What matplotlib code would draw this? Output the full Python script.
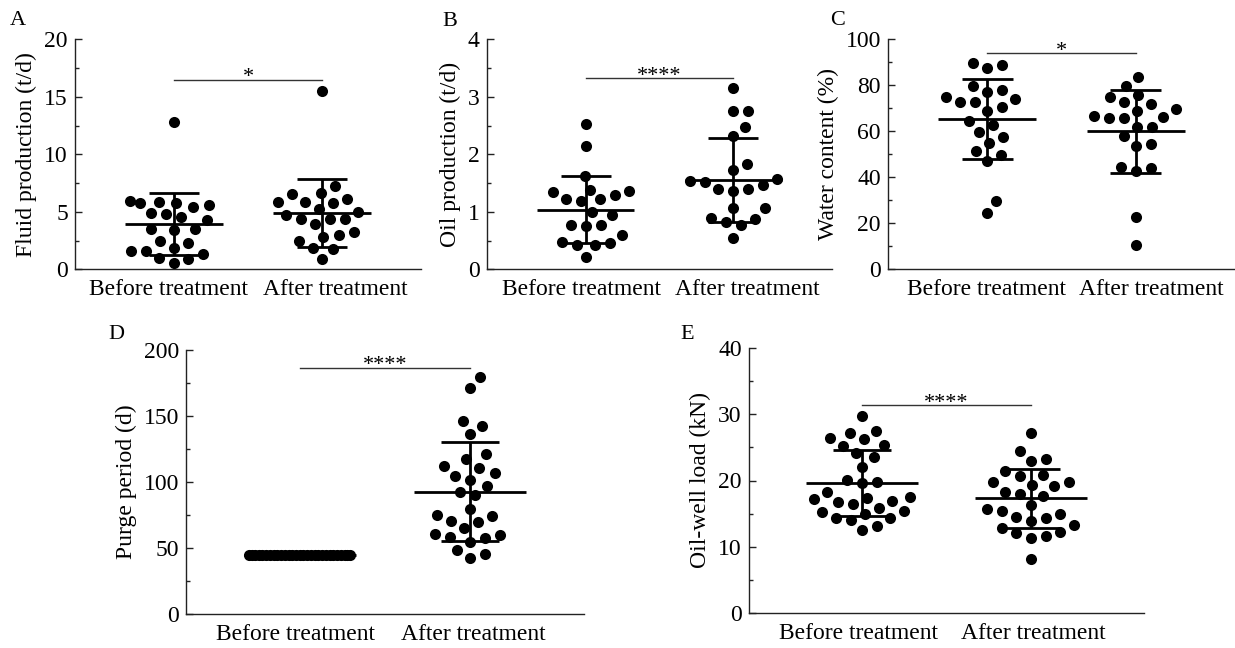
import numpy as np
import matplotlib
matplotlib.use('Agg')
import matplotlib.pyplot as plt
from matplotlib.ticker import MultipleLocator
from matplotlib.transforms import ScaledTranslation

plt.rcParams['font.family'] = 'Liberation Serif'

# data
groups = ['Before treatment', 'After treatment']

fluid_before = [5.74, 5.59, 5.39, 5.85, 5.97, 5.79, 4.81, 4.29, 4.57, 4.87, 3.48, 3.42,
                3.50, 2.46, 2.31, 1.88, 1.62, 1.55, 1.30, 0.96, 0.90, 0.52, 12.83]
fluid_after = [7.24, 6.61, 6.52, 6.11, 5.82, 5.82, 5.74, 5.24, 4.96, 4.72, 4.35, 4.35,
               4.35, 3.94, 2.83, 2.98, 3.27, 2.49, 1.88, 1.77, 0.87, 15.53]
fluid_mean = [3.94, 4.87]
fluid_sd = [2.67, 2.96]

oil_before = [2.53, 2.15, 1.63, 1.36, 1.35, 1.29, 1.22, 1.23, 1.38, 1.19, 1.00, 0.94,
              0.77, 0.77, 0.76, 0.60, 0.45, 0.48, 0.43, 0.43, 0.22]
oil_after = [3.15, 2.75, 2.75, 2.47, 2.31, 1.84, 1.73, 1.54, 1.47, 1.39, 1.36, 1.57,
             1.39, 1.51, 1.07, 1.06, 0.87, 0.82, 0.90, 0.77, 0.54]
oil_mean = [1.04, 1.55]
oil_sd = [0.59, 0.73]

water_before = [87.7, 88.8, 89.6, 77.0, 74.8, 78.0, 79.8, 72.9, 73.9, 72.9, 70.7, 68.8,
                64.6, 62.7, 59.8, 57.4, 54.8, 51.6, 49.7, 47.2, 29.7, 24.3]
water_after = [83.7, 79.8, 75.8, 74.8, 72.6, 71.9, 69.6, 69.0, 66.7, 65.6, 65.6, 66.1,
               61.7, 61.7, 58.0, 53.6, 54.5, 44.6, 43.9, 42.9, 22.6, 10.6]
water_mean = [65.2, 60.0]
water_sd = [17.4, 18.0]

purge_before = [45] * 29
purge_after = [179.8, 171.4, 146.2, 142.7, 136.1, 121.0, 117.2, 112.1, 110.8, 107.0,
               101.5, 104.5, 97.2, 92.7, 90.2, 79.5, 74.5, 75.0, 69.9, 70.7, 65.4, 57.3,
               54.8, 58.6, 59.8, 60.4, 48.5, 45.2, 42.7]
purge_mean = [45.0, 92.8]
purge_sd = [0.0, 37.3]

load_before = [29.8, 26.2, 27.2, 26.4, 27.5, 25.3, 25.2, 24.2, 23.5, 22.1, 19.7, 19.6,
               20.1, 18.2, 16.9, 16.5, 17.5, 16.7, 17.4, 17.2, 15.8, 15.4, 15.2, 15.0,
               14.3, 14.3, 14.1, 13.2, 12.6]
load_after = [27.1, 24.5, 23.2, 22.9, 21.4, 20.9, 20.7, 19.7, 19.2, 19.7, 19.3, 18.3,
              17.9, 17.7, 16.3, 15.0, 15.4, 15.7, 14.5, 14.3, 13.9, 13.3, 12.3, 12.1,
              12.8, 11.6, 11.3, 8.1]
load_mean = [19.6, 17.3]
load_sd = [5.0, 4.5]

W, H = 1235, 648


def box(left, top, right, bottom):
    # pixel box -> figure fraction
    return [left / W, 1 - bottom / H, (right - left) / W, (bottom - top) / H]


def swarm(ax, xc, vals, diam=15, half=0.30):
    # simple beeswarm in pixel space, offsets limited to +-half
    vals = np.asarray(vals, float)
    p0 = ax.transData.transform((0, 0))
    p1 = ax.transData.transform((1, 0))
    ppu = p1[0] - p0[0]
    ypx = ax.transData.transform(np.column_stack([np.zeros(len(vals)), vals]))[:, 1]
    lim = half * ppu
    cands = [0.0]
    k = 0.5
    while k <= lim:
        cands += [k, -k]
        k += 0.5
    placed = []
    off = np.zeros(len(vals))
    for i in np.argsort(vals):
        y = ypx[i]
        best = None
        for c in cands:
            if all((c - px) ** 2 + (y - py) ** 2 >= diam ** 2 for px, py in placed):
                best = c
                break
        if best is None:
            best = max(cands, key=lambda c: min((c - px) ** 2 + (y - py) ** 2 for px, py in placed))
        placed.append((best, y))
        off[i] = best
    return xc + off / ppu


def panel(rect, letter, letter_xy, before, after, mean, sd, ylim, major, minor, ylabel,
          sig_y, stars, label_shift=(0, 0)):
    ax = fig.add_axes(box(*rect))
    ax.set_xlim(-0.67, 1.67)
    ax.set_ylim(*ylim)
    for s in ['top', 'right']:
        ax.spines[s].set_visible(False)
    for s in ['left', 'bottom']:
        ax.spines[s].set_linewidth(1.0)
        ax.spines[s].set_color('#222222')
    ax.yaxis.set_major_locator(MultipleLocator(major))
    ax.yaxis.set_minor_locator(MultipleLocator(minor))
    ax.tick_params(axis='y', which='both', direction='in', labelsize=17, pad=5, color='#222222')
    ax.tick_params(axis='y', which='major', length=5, width=1)
    ax.tick_params(axis='y', which='minor', length=3, width=1)
    ax.set_xticks([0, 1])
    ax.set_xticklabels(groups)
    ax.tick_params(axis='x', length=0, labelsize=17, pad=7)
    for lab, dx in zip(ax.get_xticklabels(), label_shift):
        lab.set_transform(lab.get_transform() + ScaledTranslation(dx / 100, 0, fig.dpi_scale_trans))
    ax.set_ylabel(ylabel, fontsize=17, labelpad=5)

    for i, vals in enumerate([before, after]):
        xs = swarm(ax, i, vals)
        ax.plot(xs, vals, 'o', color='black', markersize=8, markeredgewidth=0, zorder=3)
        m, s = mean[i], sd[i]
        ax.hlines(m, i - 0.33, i + 0.33, color='black', lw=2, zorder=4)
        ax.hlines([m - s, m + s], i - 0.17, i + 0.17, color='black', lw=2, zorder=4)
        ax.vlines(i, m - s, m + s, color='black', lw=2, zorder=4)

    # significance bar
    ax.plot([0, 1], [sig_y, sig_y], color='#333333', lw=1)
    ax.annotate(stars, xy=(0.5, sig_y), xytext=(0, -2), textcoords='offset points',
                ha='center', va='baseline', fontsize=16)
    fig.text(letter_xy[0] / W, 1 - letter_xy[1] / H, letter, fontsize=16, va='baseline')
    return ax


fig = plt.figure(figsize=(12.35, 6.48), dpi=100)

panel((74.8, 39.3, 421.2, 269.3), 'A', (10, 25), fluid_before, fluid_after, fluid_mean, fluid_sd,
      (0, 20), 5, 2.5, 'Fluid production (t/d)', 16.5, '*', (-5, 13))
panel((486.8, 39.3, 832.2, 269.3), 'B', (442, 26), oil_before, oil_after, oil_mean, oil_sd,
      (0, 4), 1, 0.5, 'Oil production (t/d)', 3.33, '****', (-4, 14))
panel((887.9, 39.3, 1235, 269.3), 'C', (830, 25), water_before, water_after, water_mean, water_sd,
      (0, 100), 20, 10, 'Water content (%)', 94, '*', (-1, 16))
panel((186.1, 350, 583.9, 614), 'D', (108, 339), purge_before, purge_after, purge_mean, purge_sd,
      (0, 200), 50, 25, 'Purge period (d)', 186.6, '****', (-4, 3))
panel((748.8, 348, 1144.2, 613), 'E', (680, 339), load_before, load_after, load_mean, load_sd,
      (0, 40), 10, 5, 'Oil-well load (kN)', 31.4, '****', (-4, 2))

fig.savefig('out.png', dpi=100)
